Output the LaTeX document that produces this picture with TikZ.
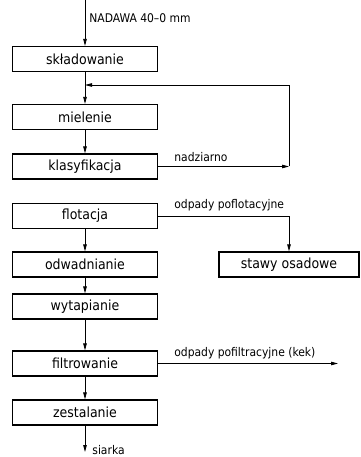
\documentclass[tikz,border=0pt]{standalone}
\usepackage{fontspec}
\setmainfont{DejaVu Sans Condensed}
\usetikzlibrary{arrows.meta, positioning}
\begin{document}
\begin{tikzpicture}[
  x=1bp, y=-1bp,
  stage/.style={draw, rectangle, line width=1.2bp, minimum width=145bp, minimum height=25bp, inner sep=0pt, font=\fontsize{14}{16}\selectfont},
  lbl/.style={font=\fontsize{12}{14}\selectfont, inner sep=0pt},
  >={Triangle[length=7bp,width=3.5bp]},
  line width=0.8bp
]
  \useasboundingbox (0,0) rectangle (360,457);
  % main line
  \node[stage] (skl) at (85,59) {składowanie};
  \node[stage] (mie) at (85,117) {mielenie};
  \node[stage] (kla) at (85,166.5) {klasyfikacja};
  \node[stage] (flo) at (85,216) {flotacja};
  \node[stage] (odw) at (85,264.5) {odwadnianie};
  \node[stage] (wyt) at (85,306.5) {wytapianie};
  \node[stage] (fil) at (85,363.5) {filtrowanie};
  \node[stage] (zes) at (85,412.5) {zestalanie};
  \node[stage, minimum width=140bp] (sta) at (289,264.5) {stawy osadowe};
  \coordinate (in) at (85,0);
  \coordinate (out) at (85,452);
  \coordinate (join) at (85,85);
  \coordinate (turn) at (289,166.5);
  \coordinate (kek) at (338,363.5);

  \draw[->] (in) -- (skl);
  \draw (skl) -- (join);
  \draw[->] (join) -- (mie);
  \draw[->] (mie) -- (kla);
  \draw[->] (kla) -- (turn);
  \draw[->] (turn) |- (join);
  \draw[->] (flo) -| (sta);
  \draw[->] (flo) -- (odw);
  \draw[->] (odw) -- (wyt);
  \draw[->] (wyt) -- (fil);
  \draw[->] (fil) -- (kek);
  \draw[->] (fil) -- (zes);
  \draw[->] (zes) -- (out);

  \node[lbl, anchor=base west] at (89,23) {NADAWA 40--0 mm};
  \node[lbl, anchor=base west] at (174,162) {nadziarno};
  \node[lbl, anchor=base west] at (174,209) {odpady poflotacyjne};
  \node[lbl, anchor=base west] at (174,356) {odpady pofiltracyjne (kek)};
  \node[lbl, anchor=base west] at (92,454) {siarka};
\end{tikzpicture}
\end{document}
